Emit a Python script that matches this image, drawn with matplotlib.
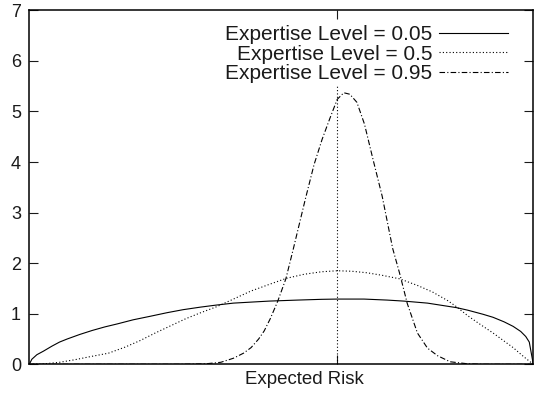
import matplotlib
matplotlib.use("Agg")
import matplotlib.pyplot as plt

plt.rcParams['font.family'] = ['Liberation Sans', 'DejaVu Sans']

# risk densities for three expertise levels
risk_low = [0.000, 0.005, 0.015, 0.028, 0.045, 0.060, 0.075, 0.100, 0.125, 0.150,
            0.175, 0.206, 0.240, 0.273, 0.305, 0.339, 0.370, 0.405, 0.440, 0.476,
            0.532, 0.580, 0.611, 0.664, 0.710, 0.743, 0.790, 0.848, 0.870, 0.900,
            0.920, 0.942, 0.960, 0.975, 0.985, 0.992, 1.000]
dens_low = [0.00, 0.10, 0.19, 0.26, 0.36, 0.44, 0.50, 0.59, 0.67, 0.74,
            0.80, 0.88, 0.95, 1.02, 1.08, 1.13, 1.17, 1.21, 1.23, 1.25,
            1.27, 1.285, 1.29, 1.29, 1.27, 1.25, 1.21, 1.12, 1.07, 0.99,
            0.93, 0.84, 0.75, 0.65, 0.55, 0.44, 0.00]

risk_mid = [0.000, 0.030, 0.060, 0.090, 0.120, 0.157, 0.190, 0.220, 0.250, 0.280,
            0.310, 0.340, 0.372, 0.405, 0.440, 0.476, 0.510, 0.545, 0.580, 0.611,
            0.640, 0.670, 0.700, 0.735, 0.770, 0.800, 0.830, 0.846, 0.870, 0.896,
            0.920, 0.942, 0.960, 0.981, 1.000]
dens_mid = [0.00, 0.01, 0.04, 0.09, 0.15, 0.22, 0.34, 0.47, 0.62, 0.76,
            0.90, 1.02, 1.14, 1.29, 1.45, 1.58, 1.70, 1.78, 1.83, 1.85,
            1.84, 1.81, 1.76, 1.69, 1.56, 1.43, 1.26, 1.15, 0.96, 0.78,
            0.62, 0.46, 0.33, 0.15, 0.00]

risk_high = [0.000, 0.300, 0.350, 0.380, 0.405, 0.425, 0.440, 0.455, 0.466, 0.478,
             0.493, 0.509, 0.524, 0.548, 0.565, 0.581, 0.597, 0.611, 0.624, 0.636,
             0.650, 0.665, 0.682, 0.700, 0.721, 0.735, 0.750, 0.770, 0.790, 0.810,
             0.835, 0.870, 0.900, 1.000]
dens_high = [0.00, 0.00, 0.01, 0.04, 0.12, 0.22, 0.33, 0.50, 0.66, 0.90,
             1.25, 1.69, 2.29, 3.28, 3.95, 4.45, 4.88, 5.24, 5.37, 5.34,
             5.18, 4.75, 4.05, 3.33, 2.29, 1.79, 1.20, 0.62, 0.32, 0.17,
             0.05, 0.01, 0.00, 0.00]

labels = ["Expertise Level = 0.05", "Expertise Level = 0.5", "Expertise Level = 0.95"]
mean_risk = 0.611
mean_line_top = 5.52

fig = plt.figure(figsize=(5.34, 3.95), dpi=100)
ax = fig.add_axes([0.0549, 0.0777, 0.9438, 0.8962])

ax.plot(risk_low, dens_low, color='black', lw=0.8, ls='-', label=labels[0])
ax.plot(risk_mid, dens_mid, color='black', lw=0.8, ls=(0, (1, 2)), label=labels[1])
ax.plot(risk_high, dens_high, color='black', lw=0.8, ls=(0, (5, 2, 1, 2)), label=labels[2])
ax.plot([mean_risk, mean_risk], [0, mean_line_top], color='black', lw=0.8, ls=(0, (1, 2)))

ax.set_xlim(0, 1)
ax.set_ylim(0, 7)
ax.set_xticks([mean_risk])
ax.set_xticklabels([''])
ax.set_yticks(range(8))
ax.tick_params(direction='in', length=6.5, width=0.8, top=True, right=True,
               labelsize=13, pad=6, colors='#1a1a1a')
for sp in ax.spines.values():
    sp.set_linewidth(1.1)
ax.set_xlabel("Expected Risk", fontsize=13.4, color='#1a1a1a')
ax.xaxis.set_label_coords(0.545, -0.02)

leg = ax.legend(loc='upper right', bbox_to_anchor=(508 / 534, 1 - 25 / 395),
                bbox_transform=fig.transFigure, frameon=False, markerfirst=False,
                fontsize=15, handlelength=3.3, handletextpad=0.34,
                labelspacing=0.03, borderpad=0, borderaxespad=0)
for t in leg.get_texts():
    t.set_color('#1a1a1a')

fig.savefig("out.png", dpi=100)
